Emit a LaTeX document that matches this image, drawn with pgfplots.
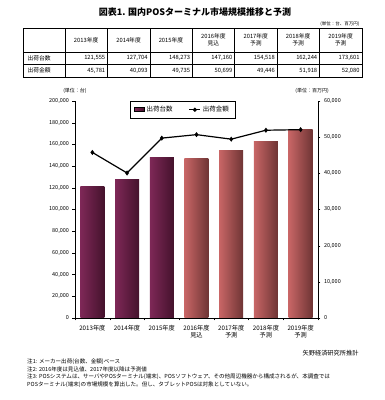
\documentclass[border=0pt]{standalone}
\usepackage{pgfplots}
\pgfplotsset{compat=1.18}
\usepackage{fontspec}
\setmainfont{Noto Sans CJK JP}
\definecolor{pmid}{HTML}{7E2857}
\definecolor{plight}{HTML}{96326C}
\definecolor{pdark}{HTML}{44122C}
\definecolor{smid}{HTML}{C86666}
\definecolor{slight}{HTML}{F08282}
\definecolor{sdark}{HTML}{6E3434}
\pgfplotsset{
  pbar/.style={ybar, bar width=24pt, bar shift=0pt, draw=none, left color=pmid, middle color=plight, right color=pdark},
  sbar/.style={ybar, bar width=24pt, bar shift=0pt, draw=none, left color=smid, middle color=slight, right color=sdark},
}
\begin{document}
\begin{tikzpicture}[x=1pt,y=1pt]
\path (0,0) rectangle (384,400);
% title
\node[font=\fontsize{9}{10}\selectfont\bfseries] at (195,388) {図表1. 国内POSターミナル市場規模推移と予測};
\node[font=\fontsize{4.5}{5}\selectfont, anchor=east] at (363,376) {(単位：台、百万円)};
% table
\begin{scope}[font=\fontsize{5.8}{6.6}\selectfont]
\draw[line width=0.8pt] (23,323) rectangle (362,372);
\draw[line width=0.4pt] (23,348) -- (362,348);
\draw[line width=0.4pt] (23,336) -- (362,336);
\draw[line width=0.4pt] (65,323) -- (65,372);
\foreach \i in {1,...,6} {\draw[line width=0.4pt] ({65+\i*42.4},323) -- ({65+\i*42.4},372);}
\foreach \t [count=\i from 0] in {2013年度,2014年度,2015年度,{2016年度\\見込},{2017年度\\予測},{2018年度\\予測},{2019年度\\予測}} {
  \node[align=center, inner sep=0pt] at ({65+\i*42.4+21.2},360) {\t};
}
\node[anchor=west] at (24,342) {出荷台数};
\node[anchor=west] at (24,329.5) {出荷金額};
\foreach \v [count=\i from 1] in {121{,}555,127{,}704,148{,}273,147{,}160,154{,}518,162{,}244,173{,}601} {
  \node[anchor=east, inner sep=1pt] at ({65+\i*42.4-1},342) {\v};
}
\foreach \v [count=\i from 1] in {45{,}781,40{,}093,49{,}735,50{,}699,49{,}446,51{,}918,52{,}080} {
  \node[anchor=east, inner sep=1pt] at ({65+\i*42.4-1},329.5) {\v};
}
\end{scope}
% unit labels
\node[font=\fontsize{5}{6}\selectfont] at (75,309) {(単位：台)};
\node[font=\fontsize{5}{6}\selectfont] at (312,309) {(単位：百万円)};
\begin{axis}[
  at={(75pt,82pt)}, anchor=south west,
  width=243pt, height=217pt, scale only axis,
  xmin=-0.5, xmax=6.5, ymin=0, ymax=200000,
  axis lines*=left,
  ytick={0,20000,...,200000},
  scaled y ticks=false,
  yticklabel style={/pgf/number format/.cd, fixed, 1000 sep={,}, assume math mode=true},
  ticklabel style={font=\fontsize{5.5}{6.5}\selectfont},
  xtick={0,...,6},
  xticklabels={2013年度,2014年度,2015年度,{2016年度\\見込},{2017年度\\予測},{2018年度\\予測},{2019年度\\予測}},
  xticklabel style={align=center, yshift=-1pt, font=\fontsize{6.2}{7.5}\selectfont},
  major x tick style={draw=none},
  minor xtick={-0.5,0.5,...,6.5},
  minor tick length=2.5pt,
  major tick length=2.5pt,
  tick align=outside,
  y tick style={black},
  minor x tick style={black},
  axis line style={black, line width=0.5pt},
]
\addplot[pbar] coordinates {(0,121555)};
\addplot[pbar] coordinates {(1,127704)};
\addplot[pbar] coordinates {(2,148273)};
\addplot[sbar] coordinates {(3,147160)};
\addplot[sbar] coordinates {(4,154518)};
\addplot[sbar] coordinates {(5,162244)};
\addplot[sbar] coordinates {(6,173601)};
\end{axis}
\begin{axis}[
  at={(75pt,82pt)}, anchor=south west,
  width=243pt, height=217pt, scale only axis,
  xmin=-0.5, xmax=6.5, ymin=0, ymax=60000,
  axis x line=none,
  axis y line*=right,
  ytick={0,10000,...,60000},
  scaled y ticks=false,
  yticklabel style={/pgf/number format/.cd, fixed, 1000 sep={,}, assume math mode=true},
  ticklabel style={font=\fontsize{5.5}{6.5}\selectfont},
  major tick length=2.5pt,
  tick align=outside,
  y tick style={black},
  axis line style={black, line width=0.5pt},
  legend style={at={(0.226,1)}, anchor=north west, font=\fontsize{6.5}{7}\selectfont, draw=black, line width=0.5pt, legend columns=2, inner xsep=4pt, inner ysep=3pt, /tikz/every even column/.append style={column sep=14pt}},
]
\addlegendimage{legend image code/.code={\fill[left color=pmid, middle color=plight, right color=pdark] (0pt,-2pt) rectangle (10pt,2pt);}}
\addlegendentry{出荷台数}
\addplot[black, line width=1.2pt, mark=diamond*, mark size=1.6pt,
  legend image code/.code={\draw[black, line width=1.2pt] (0pt,0pt) -- (11pt,0pt); \fill (5.5pt,0pt) circle (1.4pt);}]
  coordinates {(0,45781) (1,40093) (2,49735) (3,50699) (4,49446) (5,51918) (6,52080)};
\addlegendentry{出荷金額}
\end{axis}
% source and notes
\node[font=\fontsize{6.2}{7}\selectfont, anchor=east] at (362,47) {矢野経済研究所推計};
\begin{scope}[font=\fontsize{5.55}{6}\selectfont]
\node[anchor=west, inner sep=0pt] at (27,38) {注1: メーカー出荷(台数、金額)ベース};
\node[anchor=west, inner sep=0pt] at (27,30.5) {注2: 2016年度は見込値、2017年度以降は予測値};
\node[anchor=west, inner sep=0pt] at (27,23) {注3: POSシステムは、サーバやPOSターミナル(端末)、POSソフトウェア、その他周辺機器から構成されるが、本調査では};
\node[anchor=west, inner sep=0pt] at (27,15.5) {POSターミナル(端末)の市場規模を算出した。但し、タブレットPOSは対象としていない。};
\end{scope}
\end{tikzpicture}
\end{document}
